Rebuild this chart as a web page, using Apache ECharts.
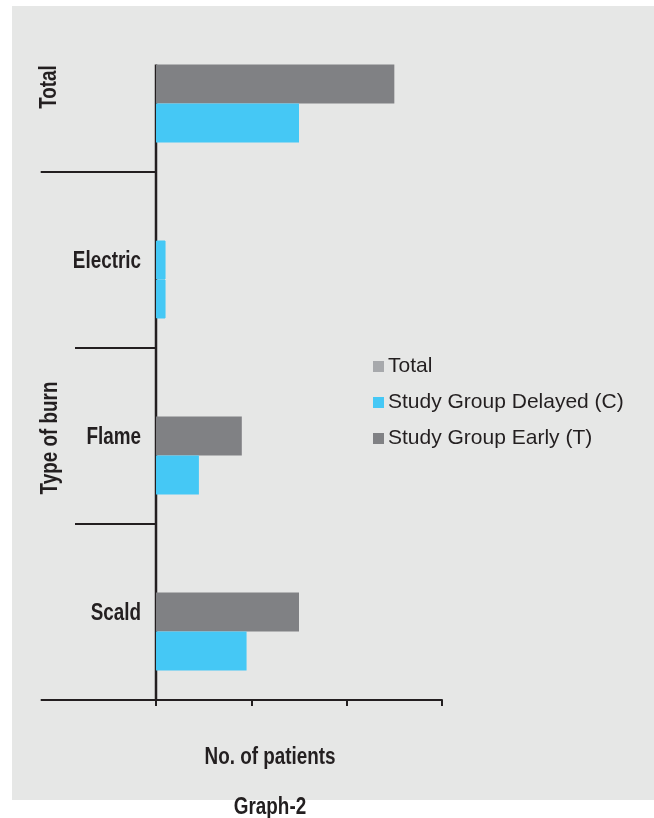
<!DOCTYPE html>
<html>
<head>
<meta charset="utf-8">
<script src="https://cdn.jsdelivr.net/npm/echarts@6/dist/echarts.min.js"></script>
<style>
    html, body { margin: 0; padding: 0; background: #ffffff; }
    #panel { position: absolute; left: 12px; top: 6px; width: 642px; height: 794px; background: #e6e7e6; }
    #chart { position: absolute; left: 0; top: 0; width: 654px; height: 818px; }
</style>
</head>
<body>
<div id="panel"></div>
<div id="chart"></div>
<script>
// categories from bottom to top
var categories = ['Scald', 'Flame', 'Electric', 'Total'];
var delayedC = [9.5, 4.5, 1, 15];
var earlyT = [15, 9, 1, 25];
var totalSeries = [0, 0, 0, 0];
var legendNames = ['Total', 'Study Group Delayed (C)', 'Study Group Early (T)'];

var ink = '#231f20';
var cyan = '#45c8f5';
var darkGray = '#808184';
var lightGray = '#a7a9ac';
// bold labels are a condensed face in the original, squeeze them with scaleX
var boldFont = 'bold 23px "Liberation Sans", Arial, sans-serif';
var squeeze = 0.82;

var chart = echarts.init(document.getElementById('chart'));

// the Electric bar of the early group is drawn cyan in the original,
// a thin border of the same colour hides the seam between the two bars
var cyanItem = { color: cyan, borderColor: cyan, borderWidth: 1 };
var earlyData = earlyT.map(function (v, i) {
    return categories[i] === 'Electric' ? { value: v, itemStyle: cyanItem } : v;
});
var delayedData = delayedC.map(function (v, i) {
    return categories[i] === 'Electric' ? { value: v, itemStyle: cyanItem } : v;
});

var option = {
    backgroundColor: 'transparent',
    animation: false,
    grid: { left: 156, right: 212, top: -4, bottom: 118, containLabel: false, outerBoundsMode: 'none' },
    legend: {
        orient: 'vertical',
        left: 373,
        top: 356,
        padding: 0,
        icon: 'rect',
        itemWidth: 11,
        itemHeight: 11,
        itemGap: 15,
        data: legendNames,
        textStyle: {
            color: ink,
            fontSize: 21,
            fontFamily: '"Liberation Sans", Arial, sans-serif',
            padding: [0, 0, 0, -1]
        }
    },
    xAxis: {
        type: 'value',
        min: 0,
        max: 30,
        interval: 10,
        axisLine: { show: true, lineStyle: { color: ink, width: 2 } },
        axisTick: { show: true, length: 6, lineStyle: { color: ink, width: 2 } },
        axisLabel: { show: false },
        splitLine: { show: false }
    },
    yAxis: {
        type: 'category',
        data: categories,
        axisLine: { show: false },
        axisTick: { show: true, length: 81, lineStyle: { color: ink, width: 2 } },
        axisLabel: { show: false }
    },
    series: [
        {
            name: 'Total',
            type: 'bar',
            barWidth: 39,
            barGap: '0%',
            itemStyle: { color: lightGray },
            data: totalSeries
        },
        {
            name: 'Study Group Early (T)',
            type: 'bar',
            barWidth: 39,
            barGap: '0%',
            itemStyle: { color: darkGray },
            data: earlyData
        },
        {
            name: 'Study Group Delayed (C)',
            type: 'bar',
            barWidth: 39,
            barGap: '0%',
            itemStyle: { color: cyan },
            data: delayedData
        }
    ]
};
chart.setOption(option);

// axis line, separators and labels, placed from the chart's own scales
var x0 = chart.convertToPixel({ xAxisIndex: 0 }, 0);
var yTotal = chart.convertToPixel({ yAxisIndex: 0 }, 'Total');
var yScald = chart.convertToPixel({ yAxisIndex: 0 }, 'Scald');
var yElectric = chart.convertToPixel({ yAxisIndex: 0 }, 'Electric');
var band = Math.abs(yElectric - yTotal);
var yBottom = Math.round(yScald + band / 2);
var lineTop = yTotal - 19.5;
var sepY = Math.round(yTotal + band / 2);
var leftEdge = 40.7;

var labelGraphics = categories.filter(function (c) { return c !== 'Total'; }).map(function (c) {
    return {
        type: 'text',
        x: x0 - 15,
        y: chart.convertToPixel({ yAxisIndex: 0 }, c) + 2,
        scaleX: squeeze,
        style: { text: c, font: boldFont, fill: ink, textAlign: 'right', textVerticalAlign: 'middle' }
    };
});

chart.setOption({
    graphic: [
        {
            type: 'line',
            shape: { x1: x0, y1: lineTop, x2: x0, y2: yBottom },
            style: { stroke: ink, lineWidth: 2.5 }
        },
        {
            type: 'line',
            shape: { x1: leftEdge, y1: sepY, x2: x0, y2: sepY },
            style: { stroke: ink, lineWidth: 2 }
        },
        {
            type: 'line',
            shape: { x1: leftEdge, y1: yBottom, x2: x0, y2: yBottom },
            style: { stroke: ink, lineWidth: 2 }
        },
        {
            type: 'text',
            x: 50, y: yTotal + 3,
            rotation: Math.PI / 2,
            scaleX: squeeze,
            style: { text: 'Total', font: boldFont, fill: ink, textAlign: 'center', textVerticalAlign: 'middle' }
        },
        {
            type: 'text',
            x: 51, y: 438,
            rotation: Math.PI / 2,
            scaleX: squeeze,
            style: { text: 'Type of burn', font: boldFont, fill: ink, textAlign: 'center', textVerticalAlign: 'middle' }
        },
        {
            type: 'text',
            x: 270, y: 758,
            scaleX: squeeze,
            style: { text: 'No. of patients', font: boldFont, fill: ink, textAlign: 'center', textVerticalAlign: 'middle' }
        },
        {
            type: 'text',
            x: 270, y: 808,
            scaleX: squeeze,
            style: { text: 'Graph-2', font: boldFont, fill: ink, textAlign: 'center', textVerticalAlign: 'middle' }
        }
    ].concat(labelGraphics)
});
</script>
</body>
</html>
